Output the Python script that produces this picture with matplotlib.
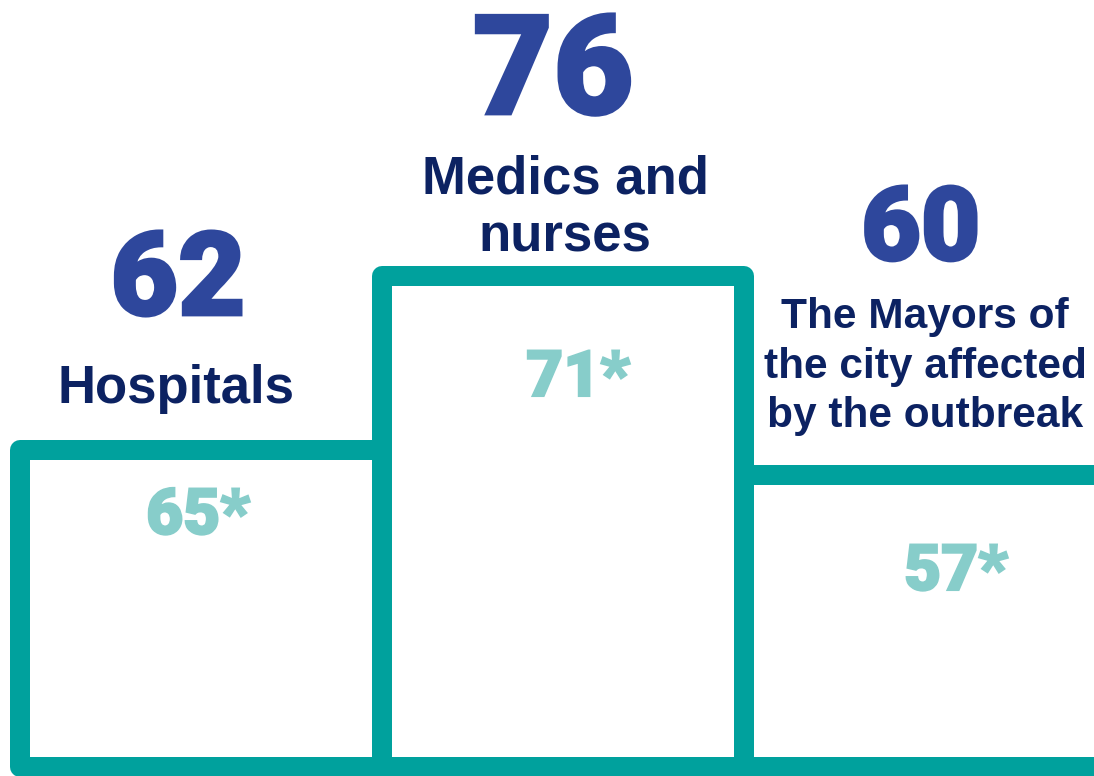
import numpy as np
import matplotlib
matplotlib.use('Agg')
import matplotlib.pyplot as plt
import matplotlib.patheffects as pe
from matplotlib import font_manager as fm
from matplotlib.transforms import blended_transform_factory

# Data
categories = ['Hospitals', 'Medics and\nnurses', 'The Mayors of\nthe city affected\nby the outbreak']
main_values = [62, 76, 60]
prev_values = ['65*', '71*', '57*']

# Colors
teal = '#00A19D'
big_blue = '#2E479C'
navy = '#0C2262'
light_teal = '#87CDCA'

W, H = 1094, 776


def heavy_font():
    """Pick an installed family that has a black/heavy weight."""
    for fam in ['Roboto', 'Lato', 'Inter', 'Open Sans', 'Noto Sans']:
        for f in fm.fontManager.ttflist:
            w = f.weight if isinstance(f.weight, int) else 400
            if f.name == fam and w >= 800 and f.style == 'normal':
                return fam, w
    return 'Liberation Sans', 'bold'


heavy_fam, heavy_w = heavy_font()
label_fam = ['Liberation Sans', 'DejaVu Sans']

fig = plt.figure(figsize=(W / 100, H / 100), dpi=100)
ax = fig.add_axes([0, 0, 1, 1])
ax.axis('off')

base = 36.45
x = np.arange(len(main_values))
ax.bar(x, np.array(main_values) - base, bottom=base, width=1.0,
       fill=False, edgecolor=teal, linewidth=14.4, joinstyle='round')
ax.set_xlim(-0.556, -0.556 + W / 362)
ax.set_ylim(35.73, 98.2)

tr = blended_transform_factory(ax.transData, ax.transAxes)


def ypx(p):
    return 1 - p / H


# big number / label / previous value layout per bar
big_dx = [-0.064, -0.028, -0.012]
big_base = [315, 114, 260]
big_size = [84, 100, 74]
lab_dx = [-0.07, 0.005, 0.0]
lab_base = [403, 252, 427]   # baseline of last line
lab_size = [38, 38, 30.5]
lab_space = [1.2, 1.22, 1.3]
prev_dx = [-0.009, 0.041, 0.085]
prev_base = [534, 396, 590]

for i in range(len(main_values)):
    ax.text(x[i] + big_dx[i], ypx(big_base[i]), str(main_values[i]),
            transform=tr, ha='center', va='baseline', fontsize=big_size[i],
            family=heavy_fam, fontweight=heavy_w, color=big_blue,
            path_effects=[pe.withStroke(linewidth=2, foreground=big_blue,
                                        joinstyle='miter')])
    ax.text(x[i] + lab_dx[i], ypx(lab_base[i]), categories[i],
            transform=tr, ha='center', va='baseline', fontsize=lab_size[i],
            family=label_fam, fontweight='bold', color=navy,
            linespacing=lab_space[i])
    ax.text(x[i] + prev_dx[i], ypx(prev_base[i]), prev_values[i],
            transform=tr, ha='center', va='baseline', fontsize=46,
            family=heavy_fam, fontweight=heavy_w, color=light_teal,
            path_effects=[pe.withStroke(linewidth=1.5, foreground=light_teal,
                                        joinstyle='miter')])

fig.savefig('out.png', dpi=100, facecolor='white')
